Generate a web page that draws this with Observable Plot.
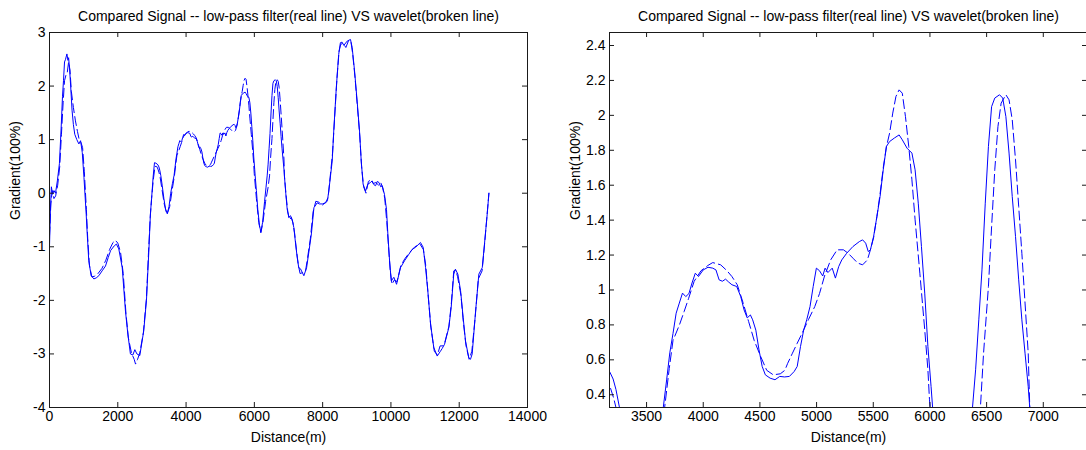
<!DOCTYPE html>
<html>
<head>
<meta charset="utf-8">
<script src="https://cdn.jsdelivr.net/npm/d3@7"></script>
<script src="https://cdn.jsdelivr.net/npm/@observablehq/plot@0.6"></script>
<style>
html,body{margin:0;padding:0;background:#fff;overflow:hidden;width:1086px;height:450px;}
#wrap{position:relative;width:1086px;height:450px;overflow:hidden;}
.panel{position:absolute;top:0;width:545px;height:450px;}
.panel svg{max-width:none !important;height:450px !important;}
</style>
</head>
<body>
<div id="wrap"><div class="panel" id="p1" style="left:0px"></div><div class="panel" id="p2" style="left:560px"></div></div>
<script>
// ---- Data ----
const titleText = "Compared Signal -- low-pass filter(real line) VS wavelet(broken line)";
const xLabel = "Distance(m)";
const yLabel = "Gradient(100%)";

// low-pass filter (solid line)
const lowpassX = [0,25,55,90,130,176,230,290,340,380,410,440,470,510,540,560,590,620,660,700,740,800,860,910,960,1010,1075,1105,1150,1220,1300,1370,1445,1540,1640,1720,1790,1900,1960,2030,2130,2225,2295,2370,2440,2500,2560,2645,2760,2840,2910,2955,2990,3035,3075,3120,3176,3205,3230,3260,3300,3350,3400,3450,3500,3550,3600,3648,3677,3705,3733,3761,3789,3817,3846,3874,3901,3930,3958,4000,4042,4084,4112,4140,4169,4197,4225,4253,4295,4331,4360,4388,4416,4436,4464,4492,4520,4548,4590,4633,4675,4717,4760,4802,4829,4858,4886,4913,4942,4970,4998,5026,5054,5075,5100,5138,5166,5195,5222,5265,5321,5377,5406,5433,5456,5475,5503,5532,5560,5588,5616,5644,5686,5728,5756,5798,5841,5869,5897,5925,5954,5982,6010,6024,6060,6100,6150,6190,6240,6300,6340,6375,6403,6431,6459,6488,6516,6544,6572,6614,6642,6670,6698,6726,6755,6783,6811,6839,6867,6881,6920,6962,7010,7059,7110,7156,7200,7255,7300,7350,7450,7530,7600,7670,7745,7840,7900,7990,8090,8140,8180,8280,8325,8400,8470,8520,8570,8620,8720,8815,8865,8935,9010,9080,9130,9185,9255,9325,9400,9450,9500,9550,9600,9650,9700,9745,9810,9870,9910,9960,10010,10050,10085,10165,10280,10400,10525,10620,10720,10865,10945,11015,11080,11160,11255,11355,11450,11500,11570,11695,11765,11840,11890,11960,12040,12115,12185,12280,12330,12380,12480,12575,12675,12740,12820,12870];
const lowpassY = [-1.0,-0.35,0.12,-0.02,0.05,0.0,0.23,0.55,1.2,1.8,2.1,2.45,2.5,2.6,2.48,2.53,2.3,2.0,1.55,1.28,1.1,1.0,0.92,0.98,0.76,0.29,-0.4,-0.76,-1.26,-1.54,-1.6,-1.58,-1.54,-1.45,-1.36,-1.2,-1.07,-0.98,-0.95,-1.04,-1.39,-2.2,-2.63,-3.0,-3.02,-2.92,-3.0,-3.03,-2.57,-2.0,-1.08,-0.39,-0.1,0.3,0.57,0.56,0.53,0.49,0.43,0.33,0.15,-0.1,-0.3,-0.38,-0.25,0.0,0.18,0.33,0.485,0.64,0.75,0.867,0.925,0.982,0.962,0.98,1.04,1.096,1.077,1.115,1.13,1.125,1.115,1.058,1.05,1.062,1.045,1.03,1.02,0.962,0.886,0.84,0.857,0.829,0.77,0.657,0.562,0.514,0.495,0.486,0.505,0.502,0.505,0.533,0.562,0.676,0.77,0.829,0.905,1.02,1.125,1.11,1.08,1.125,1.1,1.125,1.068,1.134,1.172,1.21,1.249,1.277,1.287,1.268,1.22,1.23,1.306,1.42,1.535,1.688,1.822,1.85,1.87,1.888,1.86,1.812,1.784,1.688,1.497,1.249,0.982,0.676,0.447,0.323,0.05,-0.3,-0.6,-0.72,-0.55,-0.15,0.1,0.323,0.543,0.829,1.115,1.497,1.822,2.05,2.099,2.118,2.099,1.993,1.784,1.535,1.306,1.058,0.829,0.638,0.447,0.323,0.0,-0.3,-0.45,-0.42,-0.5,-0.64,-0.9,-1.2,-1.39,-1.41,-1.54,-1.39,-1.08,-0.76,-0.27,-0.18,-0.2,-0.2,-0.18,-0.14,0.04,0.6,1.16,1.97,2.59,2.81,2.82,2.76,2.84,2.87,2.72,2.28,1.72,1.16,0.6,0.17,0.04,0.17,0.2,0.23,0.16,0.14,0.22,0.2,0.12,0.14,-0.02,-0.3,-0.76,-1.26,-1.64,-1.6,-1.57,-1.7,-1.39,-1.26,-1.14,-1.05,-1.01,-0.92,-1.01,-1.39,-1.82,-2.44,-2.88,-3.04,-2.95,-2.9,-2.82,-2.51,-2.13,-1.51,-1.42,-1.51,-1.82,-2.32,-2.76,-3.07,-3.1,-3.0,-2.2,-1.51,-1.39,-0.95,-0.39,0.0];

// wavelet (broken line)
const waveletX = [0,40,80,130,180,240,300,350,400,440,480,520,560,600,640,700,760,820,870,920,970,1020,1080,1120,1170,1240,1320,1420,1540,1650,1760,1860,1930,2000,2080,2160,2240,2310,2400,2480,2520,2580,2645,2750,2840,2900,2950,2990,3040,3090,3140,3176,3210,3240,3300,3360,3440,3520,3590,3660,3700,3733,3790,3831,3870,3920,3980,4040,4084,4154,4210,4253,4300,4350,4400,4450,4506,4560,4618,4680,4720,4745,4787,4829,4872,4928,4984,5026,5070,5124,5181,5237,5279,5321,5363,5406,5448,5475,5503,5532,5560,5588,5616,5644,5672,5700,5728,5756,5784,5813,5841,5869,5911,5954,5982,5996,6003,6060,6130,6190,6250,6330,6400,6445,6473,6516,6544,6572,6600,6628,6670,6698,6726,6755,6783,6811,6839,6867,6881,6930,6980,7030,7080,7130,7180,7230,7290,7340,7420,7500,7560,7640,7720,7800,7900,8000,8100,8160,8220,8290,8350,8420,8480,8530,8600,8680,8760,8830,8880,8950,9020,9090,9140,9200,9270,9340,9420,9480,9560,9640,9700,9760,9820,9880,9930,9980,10030,10100,10180,10290,10410,10530,10700,10850,10950,11020,11090,11170,11270,11360,11440,11520,11580,11700,11770,11840,11890,11950,12050,12120,12200,12290,12370,12470,12560,12670,12750,12830,12870];
const waveletY = [-0.8,-0.2,0.05,-0.1,-0.05,0.15,0.5,1.1,1.7,2.1,2.2,2.25,2.45,2.3,1.9,1.6,1.35,1.15,1.0,0.95,0.85,0.4,-0.3,-0.85,-1.35,-1.56,-1.55,-1.5,-1.4,-1.25,-1.05,-0.92,-0.88,-0.93,-1.1,-1.5,-2.25,-2.7,-2.98,-3.1,-3.19,-3.1,-2.98,-2.6,-1.95,-1.1,-0.45,-0.1,0.25,0.5,0.5,0.45,0.38,0.3,0.05,-0.2,-0.4,-0.25,0.05,0.33,0.55,0.71,0.8,0.876,0.95,1.05,1.11,1.14,1.157,1.144,1.11,1.077,1.03,0.93,0.82,0.71,0.62,0.54,0.514,0.52,0.54,0.58,0.638,0.695,0.752,0.83,0.905,0.98,1.08,1.172,1.23,1.23,1.21,1.182,1.154,1.144,1.172,1.23,1.3,1.42,1.55,1.7,1.82,1.898,2.013,2.108,2.146,2.127,1.993,1.822,1.631,1.402,1.096,0.772,0.543,0.371,0.32,-0.1,-0.55,-0.74,-0.55,-0.15,0.1,0.323,0.638,1.02,1.363,1.688,1.936,2.07,2.118,2.089,1.975,1.745,1.478,1.21,0.925,0.638,0.32,-0.05,-0.35,-0.5,-0.45,-0.55,-0.75,-1.05,-1.35,-1.5,-1.48,-1.45,-1.2,-0.85,-0.35,-0.15,-0.17,-0.22,-0.16,-0.08,0.3,0.75,1.4,2.15,2.65,2.78,2.8,2.72,2.85,2.82,2.6,2.15,1.6,1.05,0.5,0.12,0.0,0.22,0.25,0.18,0.2,0.15,0.2,0.1,-0.1,-0.55,-1.0,-1.45,-1.7,-1.62,-1.65,-1.35,-1.22,-1.12,-1.0,-0.95,-1.05,-1.35,-1.9,-2.5,-2.95,-3.02,-2.85,-2.85,-2.78,-2.48,-2.05,-1.45,-1.43,-1.55,-1.9,-2.4,-2.85,-3.1,-2.95,-2.3,-1.6,-1.45,-0.9,-0.3,0.0];

// axes
const leftXTicks = [0,2000,4000,6000,8000,10000,12000,14000];
const leftYTicks = [-4,-3,-2,-1,0,1,2,3];
const leftXDomain = [0,14000];
const leftYDomain = [-4,3];
const rightXTicks = [3500,4000,4500,5000,5500,6000,6500,7000];
const rightYTicks = [0.4,0.6,0.8,1.0,1.2,1.4,1.6,1.8,2.0,2.2,2.4];
const rightXDomain = [3173,7390];
const rightYDomain = [0.327,2.4745];

// ---- Build ----
const toRows = (xs, ys) => xs.map((x, i) => ({x, y: ys[i]}));
const lowpass = toRows(lowpassX, lowpassY);
const wavelet = toRows(waveletX, waveletY);
const fmt = d => String(+d.toFixed(1));

function panel(xDomain, yDomain, xTicks, yTicks) {
  const W = 545, H = 450, mt = 32, mb = 43, ml = 49, mr = 18;
  const pw = W - ml - mr, ph = H - mt - mb;
  const ink = "#1a1a1a";
  const tl = 5;
  return Plot.plot({
    width: W, height: H,
    marginTop: mt, marginBottom: mb, marginLeft: ml, marginRight: mr,
    style: {fontFamily: '"Liberation Sans", Arial, sans-serif', fontSize: "14px", color: "#000", background: "transparent", overflow: "visible", maxWidth: "none"},
    x: {domain: xDomain},
    y: {domain: yDomain},
    marks: [
      Plot.line(lowpass, {x: "x", y: "y", stroke: "#0000ff", strokeWidth: 1, clip: true}),
      Plot.line(wavelet, {x: "x", y: "y", stroke: "#0000ff", strokeWidth: 1, strokeDasharray: "9,4", clip: true}),
      Plot.frame({stroke: ink}),
      Plot.tickX(xTicks, {x: d => d, insetTop: ph - tl, stroke: ink}),
      Plot.tickX(xTicks, {x: d => d, insetBottom: ph - tl, stroke: ink}),
      Plot.tickY(yTicks, {y: d => d, insetRight: pw - tl, stroke: ink}),
      Plot.tickY(yTicks, {y: d => d, insetLeft: pw - tl, stroke: ink}),
      Plot.axisX(xTicks, {anchor: "bottom", tickSize: 0, tickPadding: 4, label: null, tickFormat: fmt}),
      Plot.axisY(yTicks, {anchor: "left", tickSize: 0, tickPadding: 4, label: null, tickFormat: fmt}),
      Plot.text([titleText], {text: d => d, frameAnchor: "top", dy: -16, lineAnchor: "middle", fill: "#000"}),
      Plot.text([xLabel], {text: d => d, frameAnchor: "bottom", dy: 30, lineAnchor: "middle", fill: "#000"}),
      Plot.text([yLabel], {text: d => d, frameAnchor: "left", dx: -34, rotate: -90, lineAnchor: "middle", fill: "#000"})
    ]
  });
}

document.getElementById("p1").appendChild(panel(leftXDomain, leftYDomain, leftXTicks, leftYTicks));
document.getElementById("p2").appendChild(panel(rightXDomain, rightYDomain, rightXTicks, rightYTicks));
</script>
</body>
</html>
